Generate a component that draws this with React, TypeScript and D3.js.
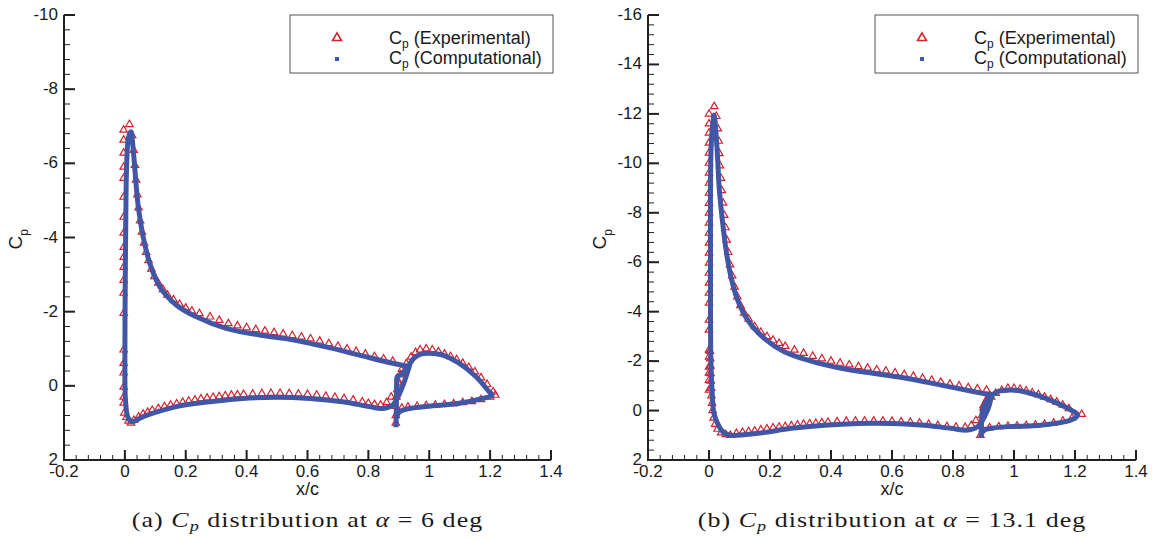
import React from "react";
import * as d3 from "d3";

type P = [number, number];

const X_TICKS = [-0.2, 0, 0.2, 0.4, 0.6, 0.8, 1, 1.2, 1.4];
const X_TICK_LABELS = ["-0.2", "0", "0.2", "0.4", "0.6", "0.8", "1", "1.2", "1.4"];
const Y_TICKS_A = [-10, -8, -6, -4, -2, 0, 2];
const Y_TICKS_B = [-16, -14, -12, -10, -8, -6, -4, -2, 0, 2];

const SERIES_NAMES = ["(Experimental)", "(Computational)"];

// ---------- alpha = 6 deg ----------
const COMP_MAIN_A: P[] = [
  [0.934, -0.52], [0.88, -0.61], [0.77, -0.83], [0.661, -1.05], [0.552, -1.24], [0.443, -1.37],
  [0.333, -1.55], [0.235, -1.86], [0.169, -2.18], [0.115, -2.67], [0.082, -3.3], [0.06, -4.02],
  [0.044, -4.83], [0.033, -5.82], [0.026, -6.5], [0.02, -6.85], [0.012, -6.7], [0.006, -6.0],
  [0.003, -4.5], [0.001, -2.5], [0.0, -0.5], [0.002, 0.4], [0.01, 0.85], [0.022, 0.97],
  [0.06, 0.83], [0.169, 0.56], [0.279, 0.43], [0.388, 0.34], [0.497, 0.31], [0.607, 0.34],
  [0.716, 0.43], [0.803, 0.56], [0.847, 0.61], [0.88, 0.52], [0.912, 0.02], [0.934, -0.52],
];
const COMP_FLAP_A: P[] = [
  [0.891, 1.05], [0.892, 0.5], [0.893, 0.0], [0.895, -0.25], [0.91, -0.32], [0.93, -0.52],
  [0.95, -0.75], [0.975, -0.86], [1.0, -0.88], [1.044, -0.83], [1.098, -0.61], [1.153, -0.25],
  [1.197, 0.16], [1.207, 0.25], [1.175, 0.34], [1.098, 0.47], [0.989, 0.56], [0.934, 0.61],
  [0.902, 0.7], [0.895, 0.8],
];
const EXP_A: P[] = [
  // leading-edge column
  [-0.004, -6.9], [-0.004, -6.63], [-0.004, -6.28], [-0.004, -5.9], [-0.004, -5.6], [-0.004, -5.09],
  [-0.004, -4.55], [-0.004, -4.12], [-0.004, -3.74], [-0.004, -3.47], [-0.004, -3.2], [-0.004, -2.85],
  [-0.004, -2.5], [-0.004, -1.96], [-0.004, -0.97], [-0.004, -0.61], [-0.004, -0.35], [-0.004, 0.03],
  [-0.004, 0.3], [-0.004, 0.46], [-0.002, 0.73], [0.005, 0.85], [0.012, 0.95], [0.02, 1.0],
  // upper surface
  [0.015, -7.05], [0.024, -6.75], [0.029, -6.35], [0.033, -5.95], [0.037, -5.55], [0.041, -5.15],
  [0.045, -4.8], [0.05, -4.45], [0.056, -4.15], [0.063, -3.85], [0.07, -3.6], [0.078, -3.38],
  [0.087, -3.15], [0.097, -2.95], [0.11, -2.77], [0.125, -2.6], [0.14, -2.45], [0.16, -2.32],
  [0.18, -2.2], [0.2, -2.1], [0.22, -2.02], [0.245, -1.95], [0.28, -1.86], [0.31, -1.77],
  [0.34, -1.68], [0.37, -1.62], [0.4, -1.57], [0.43, -1.52], [0.46, -1.48], [0.49, -1.44],
  [0.52, -1.4], [0.55, -1.36], [0.58, -1.32], [0.61, -1.27], [0.64, -1.21], [0.67, -1.14],
  [0.7, -1.07], [0.73, -1.0], [0.76, -0.93], [0.79, -0.86], [0.82, -0.79], [0.85, -0.73], [0.88, -0.67],
  // lower surface
  [0.03, 0.93], [0.045, 0.84], [0.06, 0.76], [0.075, 0.71], [0.09, 0.66], [0.11, 0.61], [0.13, 0.56],
  [0.15, 0.52], [0.17, 0.48], [0.19, 0.44], [0.21, 0.41], [0.23, 0.38], [0.25, 0.35], [0.27, 0.33],
  [0.29, 0.31], [0.31, 0.29], [0.33, 0.27], [0.35, 0.25], [0.37, 0.24], [0.39, 0.23], [0.42, 0.22],
  [0.45, 0.21], [0.48, 0.2], [0.51, 0.2], [0.54, 0.21], [0.57, 0.22], [0.6, 0.23], [0.63, 0.25],
  [0.66, 0.28], [0.69, 0.31], [0.72, 0.34], [0.75, 0.38], [0.78, 0.43], [0.8, 0.47], [0.82, 0.5],
  [0.84, 0.52], [0.86, 0.45], [0.875, 0.3],
  // main trailing edge / flap leading edge
  [0.9, -0.1], [0.905, -0.3], [0.91, -0.45], [0.89, 1.0], [0.89, 0.8], [0.89, 0.55], [0.892, 0.3],
  [0.895, 0.1],
  // flap upper
  [0.9, -0.05], [0.915, -0.35], [0.925, -0.6], [0.94, -0.78], [0.955, -0.9], [0.97, -0.97],
  [0.99, -1.0], [1.01, -0.97], [1.03, -0.92], [1.05, -0.86], [1.07, -0.79], [1.09, -0.71],
  [1.11, -0.61], [1.13, -0.5], [1.15, -0.38], [1.17, -0.22], [1.19, -0.04], [1.21, 0.16], [1.217, 0.25],
  // flap lower
  [1.2, 0.3], [1.17, 0.37], [1.14, 0.42], [1.11, 0.45], [1.08, 0.48], [1.05, 0.5], [1.02, 0.52],
  [0.99, 0.53], [0.96, 0.55], [0.93, 0.57], [0.91, 0.6],
];

// ---------- alpha = 13.1 deg ----------
const COMP_MAIN_B: P[] = [
  [0.925, -0.63], [0.87, -0.76], [0.761, -1.03], [0.651, -1.3], [0.542, -1.5], [0.433, -1.71],
  [0.324, -2.04], [0.247, -2.38], [0.181, -2.92], [0.127, -3.66], [0.094, -4.47], [0.072, -5.41],
  [0.056, -6.49], [0.045, -7.57], [0.034, -8.92], [0.028, -10.27], [0.023, -11.2], [0.017, -11.95],
  [0.01, -11.3], [0.006, -10.27], [0.005, -6.0], [0.006, -2.18], [0.01, -0.8], [0.016, 0.1],
  [0.028, 0.52], [0.045, 0.85], [0.065, 0.99], [0.16, 0.92], [0.269, 0.72], [0.378, 0.59],
  [0.488, 0.52], [0.597, 0.52], [0.706, 0.59], [0.793, 0.72], [0.848, 0.79], [0.881, 0.65],
  [0.903, 0.25], [0.92, -0.25], [0.925, -0.63],
];
const COMP_FLAP_B: P[] = [
  [0.892, 1.0], [0.894, 0.4], [0.897, -0.02], [0.913, -0.43], [0.946, -0.76], [0.99, -0.83],
  [1.034, -0.76], [1.089, -0.56], [1.143, -0.29], [1.187, -0.02], [1.209, 0.18], [1.187, 0.38],
  [1.089, 0.59], [0.979, 0.65], [0.925, 0.72], [0.903, 0.79], [0.895, 0.9],
];
const EXP_B: P[] = [
  // leading-edge column
  [0.0, -12.0], [0.0, -11.6], [0.0, -11.23], [0.0, -10.82], [0.0, -10.42], [0.0, -10.01],
  [0.0, -9.61], [0.0, -9.2], [0.0, -8.8], [0.0, -8.39], [0.0, -7.99], [0.0, -7.59], [0.0, -7.18],
  [0.0, -6.78], [0.0, -6.37], [0.0, -5.97], [0.0, -5.56], [0.0, -5.16], [0.0, -4.75], [0.0, -4.35],
  [0.0, -3.66], [0.0, -3.26], [0.0, -2.45], [0.0, -2.17], [0.0, -1.76], [0.0, -1.52], [0.0, -1.23],
  [0.0, -0.83], [0.003, -2.4], [0.004, -2.1], [0.005, -1.8], [0.005, -1.5], [0.006, -1.2],
  [0.007, -0.9], [0.008, -0.6], [0.01, -0.3], [0.012, 0.0], [0.015, 0.3], [0.02, 0.55],
  [0.028, 0.75], [0.04, 0.9], [0.055, 0.97],
  // upper surface
  [0.017, -12.3], [0.024, -11.9], [0.029, -11.4], [0.032, -10.9], [0.034, -10.4], [0.036, -9.9],
  [0.039, -9.4], [0.042, -8.9], [0.046, -8.4], [0.05, -7.9], [0.054, -7.4], [0.058, -6.9],
  [0.063, -6.4], [0.069, -5.9], [0.076, -5.45], [0.084, -5.0], [0.093, -4.6], [0.103, -4.25],
  [0.115, -3.95], [0.13, -3.7], [0.15, -3.4], [0.17, -3.17], [0.19, -3.0], [0.21, -2.85],
  [0.23, -2.72], [0.25, -2.6], [0.28, -2.45], [0.31, -2.32], [0.34, -2.2], [0.37, -2.1],
  [0.4, -2.0], [0.43, -1.92], [0.46, -1.85], [0.49, -1.78], [0.52, -1.72], [0.55, -1.65],
  [0.58, -1.6], [0.61, -1.53], [0.64, -1.46], [0.67, -1.39], [0.7, -1.31], [0.73, -1.23],
  [0.76, -1.15], [0.79, -1.07], [0.82, -1.0], [0.85, -0.93], [0.88, -0.88], [0.91, -0.83],
  // lower surface
  [0.07, 1.0], [0.09, 0.92], [0.11, 0.88], [0.13, 0.85], [0.15, 0.82], [0.17, 0.78], [0.19, 0.74],
  [0.21, 0.7], [0.23, 0.67], [0.25, 0.64], [0.27, 0.61], [0.29, 0.58], [0.31, 0.55], [0.33, 0.53],
  [0.35, 0.51], [0.37, 0.49], [0.39, 0.47], [0.42, 0.45], [0.45, 0.43], [0.48, 0.42], [0.51, 0.42],
  [0.54, 0.42], [0.57, 0.42], [0.6, 0.43], [0.63, 0.45], [0.66, 0.47], [0.69, 0.5], [0.72, 0.55],
  [0.75, 0.6], [0.78, 0.64], [0.81, 0.67], [0.84, 0.68], [0.86, 0.6], [0.875, 0.4],
  // main trailing edge / flap leading edge
  [0.9, -0.2], [0.91, -0.45], [0.92, -0.6], [0.89, 1.0], [0.89, 0.6], [0.895, 0.2],
  // flap upper
  [0.9, -0.1], [0.91, -0.35], [0.925, -0.55], [0.94, -0.7], [0.96, -0.82], [0.98, -0.9],
  [1.0, -0.9], [1.02, -0.86], [1.04, -0.8], [1.06, -0.72], [1.08, -0.65], [1.1, -0.55],
  [1.12, -0.45], [1.14, -0.35], [1.16, -0.22], [1.18, -0.08], [1.222, 0.15],
  // flap lower
  [1.19, 0.3], [1.16, 0.42], [1.13, 0.5], [1.1, 0.55], [1.07, 0.58], [1.04, 0.6], [1.01, 0.62],
  [0.98, 0.63], [0.95, 0.65], [0.92, 0.7],
];

const RED = "#d6202b";
const BLUE = "#4256a6";
const AXIS = "#231f20";
const SANS = "'Liberation Sans', Arial, Helvetica, sans-serif";
const SERIF = "'Liberation Serif', 'Times New Roman', serif";

interface PanelProps {
  left: number;
  right: number;
  top: number;
  bottom: number;
  yDomain: [number, number];
  yTicks: number[];
  compMain: P[];
  compFlap: P[];
  exp: P[];
  tag: string;
  alphaText: string;
}

function Panel(props: PanelProps) {
  const { left, right, top, bottom, yDomain, yTicks, compMain, compFlap, exp, tag, alphaText } = props;
  const x = d3.scaleLinear().domain([-0.2, 1.4]).range([left, right]);
  const y = d3.scaleLinear().domain(yDomain).range([top, bottom]);
  const line = d3
    .line<P>()
    .x((d) => x(d[0]))
    .y((d) => y(d[1]))
    .curve(d3.curveCatmullRom.alpha(0.5));
  const tri = d3.symbol().type(d3.symbolTriangle).size(24)() || "";
  const triLegend = d3.symbol().type(d3.symbolTriangle).size(34)() || "";
  const xMinor = d3.range(0, 41).map((i) => -0.2 + i * 0.04);
  const yMinor = d3.range(0, Math.round((yDomain[1] - yDomain[0]) / 0.4) + 1).map((i) => yDomain[0] + i * 0.4);
  const cx = (left + right) / 2;
  const legX = right - 261;
  const legW = 263;

  return (
    <g>
      {/* experimental triangles */}
      <g fill="none" stroke={RED} strokeWidth={1.2}>
        {exp.map((d, i) => (
          <path key={i} d={tri} transform={`translate(${x(d[0])},${y(d[1])})`} />
        ))}
      </g>
      {/* computational */}
      <g fill="none" stroke={BLUE} strokeWidth={5} strokeLinejoin="round" strokeLinecap="square">
        <path d={line(compMain) || ""} />
        <path d={line(compFlap) || ""} />
      </g>

      {/* axes */}
      <g stroke={AXIS}>
        <line x1={left} x2={left} y1={top} y2={bottom} strokeWidth={2} />
        <line x1={left - 1} x2={right} y1={bottom} y2={bottom} strokeWidth={2} />
        {xMinor.map((v, i) => (
          <line key={"xm" + i} x1={x(v)} x2={x(v)} y1={bottom} y2={bottom - 5} strokeWidth={1} />
        ))}
        {X_TICKS.map((v, i) => (
          <line key={"xM" + i} x1={x(v)} x2={x(v)} y1={bottom} y2={bottom - 10} strokeWidth={2} />
        ))}
        {yMinor.map((v, i) => (
          <line key={"ym" + i} x1={left} x2={left + 6} y1={y(v)} y2={y(v)} strokeWidth={1} />
        ))}
        {yTicks.map((v, i) => (
          <line key={"yM" + i} x1={left} x2={left + 11} y1={y(v)} y2={y(v)} strokeWidth={2} />
        ))}
      </g>
      <g fontFamily={SANS} fontSize={17} fill="#1a1a1a">
        {X_TICKS.map((v, i) => (
          <text key={"xl" + i} x={x(v)} y={bottom + 17} textAnchor="middle">
            {X_TICK_LABELS[i]}
          </text>
        ))}
        {yTicks.map((v, i) => (
          <text key={"yl" + i} x={left - 6} y={y(v) + 5} textAnchor="end">
            {String(v)}
          </text>
        ))}
        <text x={cx} y={bottom + 35} textAnchor="middle" fontSize={18}>
          x/c
        </text>
        <text transform={`translate(${left - 42},${(top + bottom) / 2 + 12}) rotate(-90)`} fontSize={19}>
          C
          <tspan dy={6} fontSize={12}>
            p
          </tspan>
        </text>
      </g>

      {/* legend */}
      <rect x={legX} y={15} width={legW} height={58} fill="white" stroke="#555" strokeWidth={1} />
      <path d={triLegend} transform={`translate(${legX + 47},${38})`} fill="none" stroke={RED} strokeWidth={1.6} />
      <rect x={legX + 45} y={57} width={4} height={4} fill={BLUE} />
      <g fontFamily={SANS} fontSize={18} fill="#1a1a1a">
        {SERIES_NAMES.map((name, i) => (
          <text key={name} x={legX + 99} y={44 + i * 20}>
            C
            <tspan dy={4} fontSize={12}>
              p
            </tspan>
            <tspan dy={-4}>{" " + name}</tspan>
          </text>
        ))}
      </g>

      {/* caption */}
      <g transform={`translate(${cx},527) scale(1.3,1)`}>
        <text
          x={0}
          y={0}
          textAnchor="middle"
          fontFamily={SERIF}
          fontSize={20}
          letterSpacing={0.8}
          fill="#1a1a1a"
        >
          {tag + " "}
          <tspan fontStyle="italic">C</tspan>
          <tspan fontStyle="italic" fontSize={14} dy={4}>
            p
          </tspan>
          <tspan dy={-4}>{" distribution at "}</tspan>
          <tspan fontStyle="italic">α</tspan>
          <tspan>{" = " + alphaText + " deg"}</tspan>
        </text>
      </g>
    </g>
  );
}

export default function App() {
  return (
    <svg width={1152} height={540} style={{ display: "block", position: "absolute", left: 0, top: 0 }}>
      <rect x={0} y={0} width={1152} height={540} fill="white" />
      <Panel
        left={64}
        right={551}
        top={15}
        bottom={460}
        yDomain={[-10, 2]}
        yTicks={Y_TICKS_A}
        compMain={COMP_MAIN_A}
        compFlap={COMP_FLAP_A}
        exp={EXP_A}
        tag="(a)"
        alphaText="6"
      />
      <Panel
        left={648}
        right={1136}
        top={15}
        bottom={460}
        yDomain={[-16, 2]}
        yTicks={Y_TICKS_B}
        compMain={COMP_MAIN_B}
        compFlap={COMP_FLAP_B}
        exp={EXP_B}
        tag="(b)"
        alphaText="13.1"
      />
    </svg>
  );
}
